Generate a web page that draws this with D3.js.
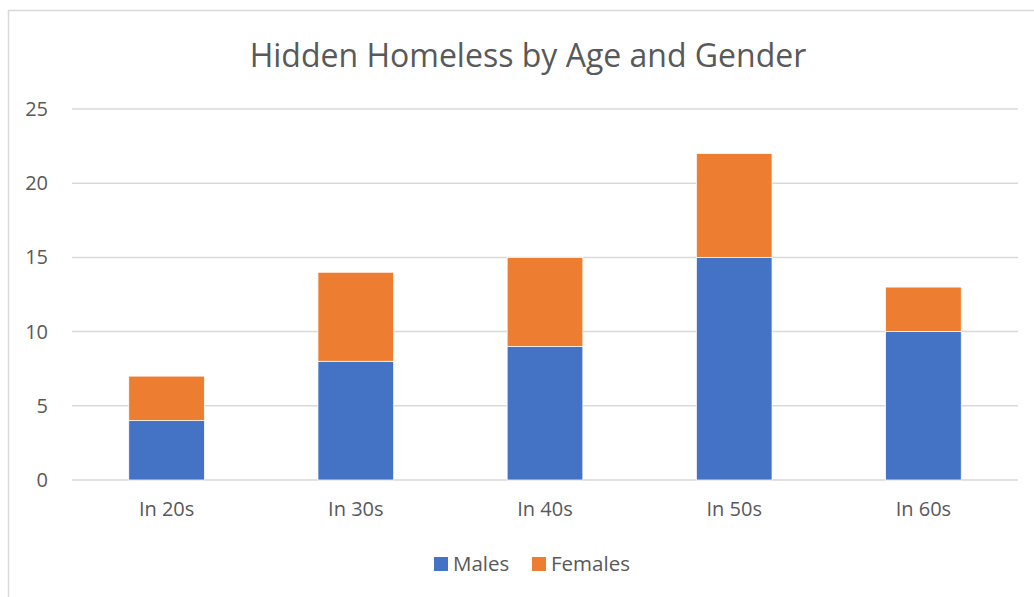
<!DOCTYPE html>
<html>
<head>
<meta charset="utf-8">
<script src="https://cdn.jsdelivr.net/npm/d3@7"></script>
<style>
  html, body { margin: 0; padding: 0; background: #fff; }
  svg { display: block; font-family: "Open Sans", sans-serif; }
</style>
</head>
<body>
<svg id="chart" width="1034" height="597"></svg>
<script>
'use strict';
const categories = ['In 20s', 'In 30s', 'In 40s', 'In 50s', 'In 60s'];
const males = [4, 8, 9, 15, 10];
const females = [3, 6, 6, 7, 3];
const yTicks = [0, 5, 10, 15, 20, 25];
const seriesNames = ['Males', 'Females'];
const colors = ['#4472c4', '#ed7d31'];

const W = 1034, H = 597;
const m = { left: 72, right: 16, top: 109, bottom: 117 };
const svg = d3.select('#chart');
const txt = '#595959';

// chart frame (cut off at right/bottom like the screenshot)
svg.append('rect').attr('x', 8.5).attr('y', 10.5).attr('width', 1040).attr('height', 600)
  .attr('fill', '#fff').attr('stroke', '#d9d9d9').attr('stroke-width', 1.5);

const x = d3.scaleBand().domain(categories).range([m.left, W - m.right]).paddingInner(0.6).paddingOuter(0.3);
const y = d3.scaleLinear().domain([0, 25]).range([H - m.bottom, m.top]);

// gridlines
svg.append('g').selectAll('line').data(yTicks).join('line')
  .attr('x1', m.left).attr('x2', W - m.right)
  .attr('y1', d => y(d)).attr('y2', d => y(d))
  .attr('stroke', '#d9d9d9').attr('stroke-width', 1.5);

// y axis labels
const yAxis = svg.append('g').attr('transform', `translate(${m.left - 24},0)`)
  .call(d3.axisLeft(y).tickValues(yTicks).tickSize(0).tickPadding(0));
yAxis.select('.domain').remove();
yAxis.selectAll('text').attr('fill', txt).attr('font-size', 20).attr('font-family', '"Open Sans", sans-serif');

// x axis labels
const xAxis = svg.append('g').attr('transform', `translate(0,${H - m.bottom + 22})`)
  .call(d3.axisBottom(x).tickSize(0).tickPadding(0));
xAxis.select('.domain').remove();
xAxis.selectAll('text').attr('fill', txt).attr('font-size', 20).attr('font-family', '"Open Sans", sans-serif');

// stacked bars
const rows = categories.map((c, i) => ({ cat: c, Males: males[i], Females: females[i] }));
const stack = d3.stack().keys(seriesNames)(rows);
svg.append('g').selectAll('g').data(stack).join('g')
  .attr('fill', (d, i) => colors[i])
  .selectAll('rect').data(d => d).join('rect')
  .attr('x', d => x(d.data.cat))
  .attr('width', x.bandwidth())
  .attr('y', d => y(d[1]))
  .attr('height', d => y(d[0]) - y(d[1]))
  .attr('stroke', '#fff').attr('stroke-width', 0.75);

// title
svg.append('text').attr('x', 528).attr('y', 67).attr('text-anchor', 'middle')
  .attr('fill', txt).attr('font-size', 32).text('Hidden Homeless by Age and Gender');

// legend
const lg = svg.append('g');
const legX = [434, 532];
seriesNames.forEach((n, i) => {
  lg.append('rect').attr('x', legX[i]).attr('y', 557).attr('width', 14).attr('height', 14).attr('fill', colors[i]);
  lg.append('text').attr('x', legX[i] + 19).attr('y', 571).attr('fill', txt).attr('font-size', 20.5).text(n);
});
</script>
</body>
</html>
